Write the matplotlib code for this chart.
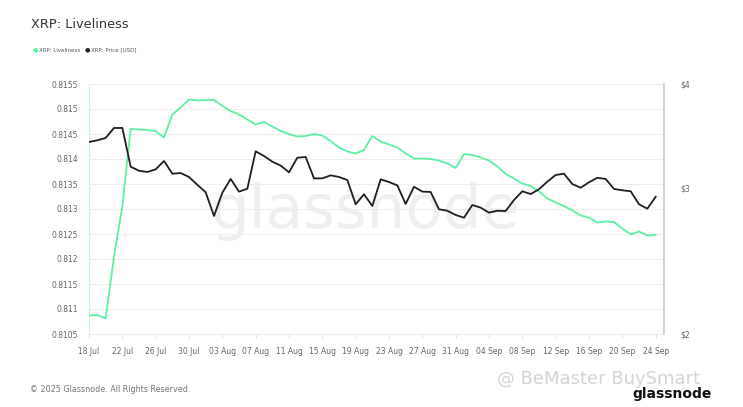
import numpy as np
import pandas as pd
import matplotlib
matplotlib.use("Agg")
import matplotlib.pyplot as plt
import matplotlib.dates as mdates
from matplotlib.ticker import FixedLocator, NullLocator

# datos diarios 18 Jul - 24 Sep 2025
fechas = pd.date_range("2025-07-18", "2025-09-24", freq="D")

liveliness = [
    0.81087, 0.81088, 0.81081, 0.81205, 0.81305, 0.81460, 0.81459, 0.81458,
    0.81456, 0.81443, 0.81489, 0.81503, 0.81519, 0.81517, 0.81518, 0.81518,
    0.81506, 0.81496, 0.81489, 0.81479, 0.81469, 0.81474, 0.81465, 0.81456,
    0.81450, 0.81445, 0.81446, 0.81450, 0.81447, 0.81436, 0.81423, 0.81415,
    0.81411, 0.81418, 0.81446, 0.81435, 0.81429, 0.81423, 0.81411, 0.81401,
    0.81401, 0.81400, 0.81397, 0.81391, 0.81382, 0.81410, 0.81408, 0.81403,
    0.81397, 0.81385, 0.81370, 0.81361, 0.81351, 0.81346, 0.81335, 0.81321,
    0.81313, 0.81306, 0.81297, 0.81287, 0.81283, 0.81273, 0.81275, 0.81274,
    0.81261, 0.81249, 0.81255, 0.81247, 0.81248,
]

precio = [
    3.406, 3.422, 3.444, 3.541, 3.541, 3.180, 3.145, 3.134,
    3.157, 3.231, 3.119, 3.125, 3.091, 3.025, 2.963, 2.774,
    2.959, 3.074, 2.968, 2.992, 3.319, 3.276, 3.225, 3.190,
    3.131, 3.261, 3.267, 3.079, 3.079, 3.105, 3.091, 3.065,
    2.866, 2.946, 2.852, 3.071, 3.048, 3.020, 2.868, 3.008,
    2.968, 2.965, 2.826, 2.815, 2.782, 2.761, 2.860, 2.839,
    2.800, 2.815, 2.813, 2.900, 2.971, 2.948, 2.988, 3.051,
    3.108, 3.119, 3.031, 3.000, 3.046, 3.084, 3.074, 2.990,
    2.979, 2.971, 2.866, 2.831, 2.926,
]

ticks_izq = [0.8105, 0.811, 0.8115, 0.812, 0.8125, 0.813, 0.8135, 0.814, 0.8145, 0.815, 0.8155]
ticks_der = [2, 3, 4]
etiquetas_der = ["$2", "$3", "$4"]

verde = "#5cf0a2"
negro = "#1e1e1e"
gris = "#666666"

fig = plt.figure(figsize=(7.43, 4.07), dpi=100)
ax = fig.add_axes([89 / 743, 1 - 334 / 407, (664 - 89) / 743, 250 / 407])
ax2 = ax.twinx()

# marca de agua
ax.text(0.48, 0.49, "glassnode", transform=ax.transAxes, ha="center", va="center",
        fontsize=44, color="#efefef", zorder=0)

ax.plot(fechas, liveliness, color=verde, linewidth=1.3, zorder=3)
ax2.plot(fechas, precio, color=negro, linewidth=1.3, zorder=3)

ax.set_ylim(0.8105, 0.8155)
ax.set_yticks(ticks_izq)
ax.set_yticklabels([f"{t:g}" for t in ticks_izq])
ax.grid(axis="y", color="#ededed", linewidth=0.7)
ax.set_axisbelow(True)

ax.set_xlim(fechas[0], fechas[-1] + pd.Timedelta(days=1))
ax.xaxis.set_major_locator(FixedLocator(mdates.date2num(fechas[::4])))
ax.xaxis.set_major_formatter(mdates.DateFormatter("%d %b"))

ax2.set_yscale("log")
ax2.set_ylim(2, 4)
ax2.yaxis.set_major_locator(FixedLocator(ticks_der))
ax2.yaxis.set_minor_locator(NullLocator())
ax2.set_yticklabels(etiquetas_der)

for a in (ax, ax2):
    a.tick_params(axis="both", labelsize=5.5, labelcolor=gris, length=0, pad=8)
    for s in a.spines.values():
        s.set_visible(False)
ax.tick_params(axis="x", length=3, color="#e0e0e0", pad=6)
ax2.tick_params(axis="y", pad=12)
ax.spines["left"].set_visible(True)
ax.spines["left"].set_color("#c8f7dd")
ax.spines["bottom"].set_visible(True)
ax.spines["bottom"].set_color("#eeeeee")
ax2.spines["right"].set_visible(True)
ax2.spines["right"].set_color("#cccccc")
ax2.spines["right"].set_linewidth(1.2)

# titulo y leyenda
fig.text(31 / 743, 1 - 25 / 407, "XRP: Liveliness", fontsize=9.3, color="#333333", va="center")
fig.text(33 / 743, 1 - 50 / 407, "\u25cf", fontsize=4.5, color=verde, va="center")
fig.text(39 / 743, 1 - 50 / 407, "XRP: Liveliness", fontsize=4, color="#555555", va="center")
fig.text(85 / 743, 1 - 50 / 407, "\u25cf", fontsize=4.5, color=negro, va="center")
fig.text(91 / 743, 1 - 50 / 407, "XRP: Price [USD]", fontsize=4, color="#555555", va="center")

# pie
fig.text(30 / 743, 1 - 389 / 407, "\u00a9 2025 Glassnode. All Rights Reserved.", fontsize=5.8,
         color="#777777", va="center")
fig.text(497 / 743, 1 - 379 / 407, "@ BeMaster BuySmart", fontsize=13, color="#d4d4d4", va="center")
fig.text(632 / 743, 1 - 394 / 407, "glassnode", fontsize=10, color="#111111", va="center",
         fontweight="bold")

fig.savefig("out.png", dpi=100)
